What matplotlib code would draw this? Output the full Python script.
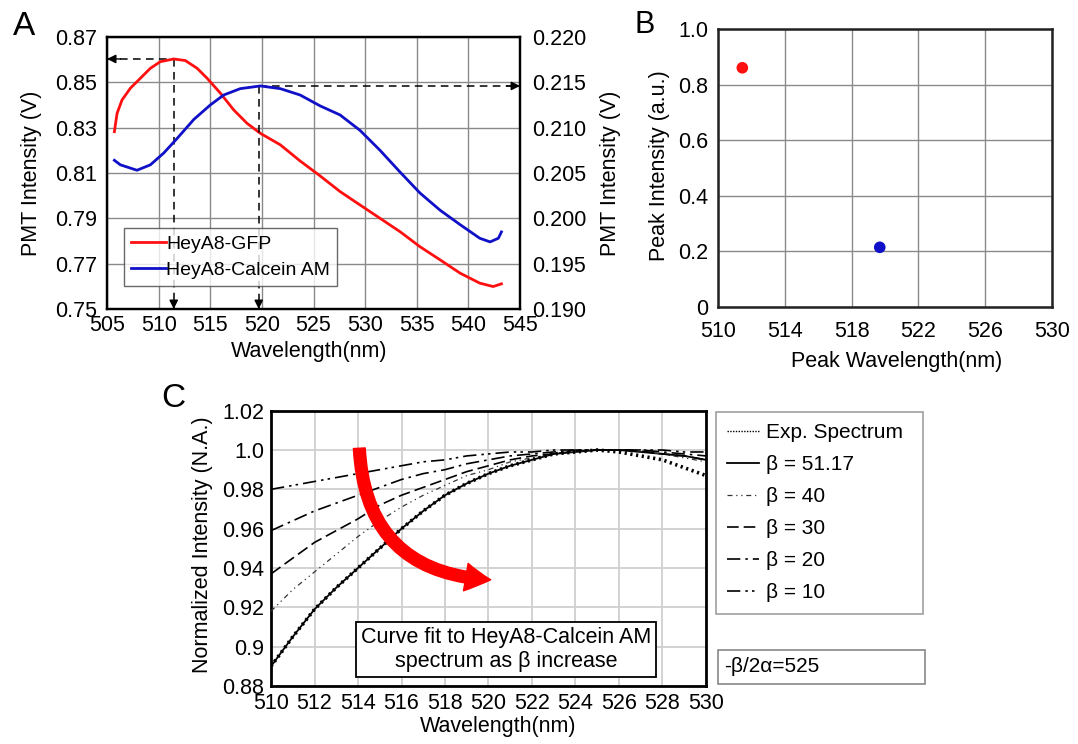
import numpy as np
import matplotlib
matplotlib.use('Agg')
import matplotlib.pyplot as plt
from matplotlib.patches import FancyArrowPatch, Rectangle
from matplotlib.lines import Line2D
from matplotlib.ticker import FormatStrFormatter

plt.rcParams['font.family'] = ['Liberation Sans', 'DejaVu Sans']

# ---------------- data: panel A ----------------
gfp_wl = [505.71, 505.97, 506.45, 507.26, 508.23, 509.2, 510.16, 511.46, 512.58, 513.72,
          514.69, 515.98, 517.27, 518.56, 519.85, 521.79, 523.7, 525.64, 527.57, 529.5,
          531.44, 533.38, 535.3, 537.25, 539.2, 541.1, 542.4, 543.2]
gfp_int = [0.8282, 0.8363, 0.8422, 0.8474, 0.8518, 0.8562, 0.8591, 0.8603, 0.8596, 0.8562,
           0.8518, 0.8452, 0.8378, 0.8319, 0.8275, 0.8224, 0.8153, 0.8087, 0.8018, 0.7959,
           0.7900, 0.7841, 0.7775, 0.7717, 0.7658, 0.7614, 0.7599, 0.7611]
calc_wl = [505.71, 506.29, 507.9, 509.2, 510.49, 511.78, 513.4, 515.0, 516.3, 517.9,
           519.85, 521.79, 523.7, 525.64, 527.57, 529.5, 531.44, 533.38, 535.3, 537.25,
           539.2, 541.1, 542.1, 542.9, 543.2]
calc_int = [0.2064, 0.2059, 0.2053, 0.2059, 0.2072, 0.2088, 0.2109, 0.2125, 0.2136, 0.2143,
            0.2146, 0.2143, 0.2136, 0.2124, 0.2114, 0.2097, 0.2075, 0.2051, 0.2028, 0.2009,
            0.1993, 0.1978, 0.1974, 0.1978, 0.1985]
series_names = ['HeyA8-GFP', 'HeyA8-Calcein AM']

# peaks (used in A arrows and panel B)
peak_wl = [511.46, 519.69]
peak_int = [0.8603, 0.2146]

# ---------------- data: panel C ----------------
c_wl = list(range(510, 531))
exp_spec = [0.890, 0.905, 0.919, 0.930, 0.940, 0.950, 0.960, 0.969, 0.977, 0.983, 0.988,
            0.992, 0.995, 0.998, 0.999, 1.000, 0.999, 0.997, 0.995, 0.991, 0.987]
beta_5117 = [0.890, 0.905, 0.919, 0.930, 0.940, 0.950, 0.960, 0.969, 0.977, 0.983, 0.988,
             0.992, 0.995, 0.998, 0.999, 1.000, 1.000, 0.999, 0.998, 0.997, 0.995]
beta_40 = [0.918, 0.929, 0.938, 0.947, 0.956, 0.964, 0.971, 0.977, 0.982, 0.987, 0.990,
           0.994, 0.996, 0.998, 0.999, 1.000, 1.000, 0.999, 0.998, 0.996, 0.994]
beta_30 = [0.937, 0.945, 0.953, 0.959, 0.965, 0.972, 0.977, 0.981, 0.985, 0.989, 0.992,
           0.995, 0.997, 0.998, 0.9995, 1.000, 1.000, 0.9995, 0.998, 0.997, 0.995]
beta_20 = [0.959, 0.964, 0.969, 0.973, 0.977, 0.981, 0.985, 0.988, 0.990, 0.993, 0.995,
           0.997, 0.998, 0.999, 1.000, 1.000, 1.000, 1.000, 0.999, 0.998, 0.997]
beta_10 = [0.980, 0.982, 0.984, 0.986, 0.988, 0.990, 0.992, 0.994, 0.995, 0.997, 0.998,
           0.999, 0.999, 1.000, 1.000, 1.000, 1.000, 1.000, 1.000, 0.999, 0.999]
c_labels = ['Exp. Spectrum', 'β = 51.17', 'β = 40', 'β = 30', 'β = 20', 'β = 10']
c_yticklabels = ['0.88', '0.9', '0.92', '0.94', '0.96', '0.98', '1.0', '1.02']
b_yticklabels = ['0', '0.2', '0.4', '0.6', '0.8', '1.0']

FS = 15.5
RED = '#ff1010'
BLUE = '#1010c8'

fig = plt.figure(figsize=(10.78, 7.44), dpi=100)

# ================= Panel A =================
axA = fig.add_axes([0.0993, 0.5847, 0.3831, 0.3656])
axA.set_xlim(505, 545)
axA.set_ylim(0.75, 0.87)
axA.set_xticks(np.arange(505, 546, 5))
axA.set_yticks(np.arange(0.75, 0.8701, 0.02))
axA.yaxis.set_major_formatter(FormatStrFormatter('%.2f'))
axA.grid(True, color='#8a8a8a', lw=1.0)
axA.set_axisbelow(True)
axA.tick_params(length=0, labelsize=FS)
axA.tick_params(axis='x', pad=4)
axA.tick_params(axis='y', pad=7)
for s in axA.spines.values():
    s.set_linewidth(1.6)
axR = axA.twinx()
axR.set_ylim(0.19, 0.22)
axR.set_yticks(np.arange(0.19, 0.2201, 0.005))
axR.yaxis.set_major_formatter(FormatStrFormatter('%.3f'))
axR.tick_params(length=0, labelsize=FS, pad=8.5)
for s in axR.spines.values():
    s.set_linewidth(1.6)

l1, = axA.plot(gfp_wl, gfp_int, color=RED, lw=2.0, zorder=3, solid_joinstyle='round')
l2, = axR.plot(calc_wl, calc_int, color=BLUE, lw=2.0, zorder=3, solid_joinstyle='round')

dash = (0, (5, 3.5))
# GFP peak guides
axA.plot([505, peak_wl[0]], [peak_int[0]] * 2, color='k', lw=1.1, ls=dash)
axA.plot([peak_wl[0]] * 2, [peak_int[0], 0.75], color='k', lw=1.1, ls=dash)
hp = dict(arrowstyle='-|>', color='k', lw=1, mutation_scale=13, shrinkA=0, shrinkB=0)
axA.annotate('', xy=(505, peak_int[0]), xytext=(506.3, peak_int[0]), arrowprops=hp)
axA.annotate('', xy=(peak_wl[0], 0.75), xytext=(peak_wl[0], 0.7535), arrowprops=hp)
# Calcein peak guides
axR.plot([peak_wl[1], 545], [peak_int[1]] * 2, color='k', lw=1.1, ls=dash)
axR.plot([peak_wl[1]] * 2, [peak_int[1], 0.19], color='k', lw=1.1, ls=dash)
axR.annotate('', xy=(545, peak_int[1]), xytext=(543.7, peak_int[1]), arrowprops=hp)
axR.annotate('', xy=(peak_wl[1], 0.19), xytext=(peak_wl[1], 0.19088), arrowprops=hp)

legA = axR.legend([l1, l2], series_names, loc='lower left', bbox_to_anchor=(0.042, 0.085),
                  borderaxespad=0, fontsize=14, frameon=True, fancybox=False,
                  edgecolor='#444444', handlelength=1.8, handletextpad=0.0,
                  labelspacing=0.45, borderpad=0.35)
legA.get_frame().set_linewidth(1.0)

axA.set_xlabel('Wavelength(nm)', fontsize=FS)
axA.xaxis.set_label_coords(0.49, -0.118)
axA.set_ylabel('PMT Intensity (V)', fontsize=FS)
axA.yaxis.set_label_coords(-0.157, 0.5)
axR.set_ylabel('PMT Intensity (V)', fontsize=FS)
axR.yaxis.set_label_coords(1.193, 0.5)

# ================= Panel B =================
axB = fig.add_axes([0.666, 0.5874, 0.3098, 0.3737])
axB.set_xlim(510, 530)
axB.set_ylim(0, 1.0)
axB.set_xticks(np.arange(510, 531, 4))
axB.set_yticks(np.arange(0, 1.01, 0.2))
axB.set_yticklabels(b_yticklabels)
axB.grid(True, color='#8a8a8a', lw=1.0)
axB.set_axisbelow(True)
axB.tick_params(length=0, labelsize=FS)
axB.tick_params(axis='x', pad=10)
axB.tick_params(axis='y', pad=7)
for s in axB.spines.values():
    s.set_linewidth(1.8)
    s.set_color('#222222')
axB.scatter(peak_wl, peak_int, c=[RED, BLUE], s=70, zorder=3, edgecolors='none')
axB.set_xlabel('Peak Wavelength(nm)', fontsize=FS)
axB.xaxis.set_label_coords(0.535, -0.158)
axB.set_ylabel('Peak Intensity (a.u.)', fontsize=FS)
axB.yaxis.set_label_coords(-0.144, 0.51)

# ================= Panel C =================
axC = fig.add_axes([0.2514, 0.0780, 0.4035, 0.370])
axC.set_xlim(510, 530)
axC.set_ylim(0.88, 1.02)
axC.set_xticks(np.arange(510, 531, 2))
axC.set_yticks(np.arange(0.88, 1.0201, 0.02))
axC.set_yticklabels(c_yticklabels)
axC.grid(True, color='#cfcfcf', lw=1.3)
axC.set_axisbelow(True)
axC.tick_params(length=0, labelsize=FS)
axC.tick_params(axis='x', pad=5)
axC.tick_params(axis='y', pad=5)
for s in axC.spines.values():
    s.set_linewidth(2.0)

styles = [dict(color='k', lw=2.6, ls=(0, (0.6, 1.0)), zorder=4),
          dict(color='k', lw=1.3, zorder=3),
          dict(color='#333333', lw=0.9, ls=(0, (4, 3, 1, 3, 1, 3)), zorder=3),
          dict(color='k', lw=1.2, ls=(0, (7, 3)), zorder=3),
          dict(color='k', lw=1.2, ls=(0, (8, 3, 1.5, 3)), zorder=3),
          dict(color='k', lw=1.2, ls=(0, (8, 3, 1.5, 2.5, 1.5, 3)), zorder=3)]
series_c = [exp_spec, beta_5117, beta_40, beta_30, beta_20, beta_10]
hC = []
for ys, st in zip(series_c, styles):
    hC.append(axC.plot(c_wl, ys, **st)[0])
# thinner proxy for the experimental spectrum in the legend
legend_handles = [Line2D([], [], color='k', lw=1.0, ls=(0, (1, 1)))] + hC[1:]

arrow = FancyArrowPatch(posA=(514.06, 1.0009), posB=(520.1, 0.934),
                        connectionstyle='arc3,rad=0.45',
                        arrowstyle='simple,tail_width=0.85,head_width=2.0,head_length=1.8',
                        mutation_scale=10, color='red', shrinkA=0, shrinkB=0, zorder=5)
axC.add_patch(arrow)

axC.text(0.540, 0.1326, 'Curve fit to HeyA8-Calcein AM\nspectrum as β increase',
         transform=axC.transAxes, ha='center', va='center', multialignment='center',
         fontsize=FS, zorder=6,
         bbox=dict(boxstyle='square,pad=0.22', fc='white', ec='black', lw=1.3))

axC.set_xlabel('Wavelength(nm)', fontsize=FS)
axC.xaxis.set_label_coords(0.522, -0.109)
axC.set_ylabel('Normalized Intensity (N.A.)', fontsize=FS)
axC.yaxis.set_label_coords(-0.133, 0.512)

legC = fig.legend(legend_handles, c_labels, loc='upper left',
                  bbox_to_anchor=(0.664, 0.1815, 0.192, 0.2647), mode='expand',
                  borderaxespad=0, fontsize=15, frameon=True, fancybox=False,
                  edgecolor='#888888', handlelength=1.5, handletextpad=0.35,
                  labelspacing=0.62, borderpad=0.55)
legC.get_frame().set_linewidth(1.2)

fig.add_artist(Rectangle((0.666, 0.0806), 0.192, 0.0457, transform=fig.transFigure,
                         fc='white', ec='#888888', lw=1.2))
fig.text(0.6716, 0.1035, '-β/2α=525', fontsize=15, va='center', ha='left')

# panel letters
fig.text(0.012, 0.953, 'A', fontsize=24, ha='left', va='baseline')
fig.text(0.589, 0.9556, 'B', fontsize=22, ha='left', va='baseline')
fig.text(0.150, 0.453, 'C', fontsize=24, ha='left', va='baseline')

fig.savefig('out.png', dpi=100)
